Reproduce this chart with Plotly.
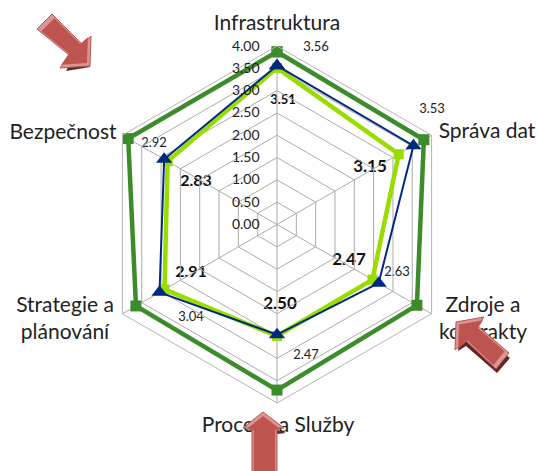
import plotly.graph_objects as go

W, H = 538, 471
categories = ["Infrastruktura", "Správa dat", "Zdroje a kontrakty", "Procesy a Služby", "Strategie a plánování", "Bezpečnost"]
target = [3.87, 3.80, 3.62, 3.71, 3.65, 3.85]
current_a = [3.56, 3.53, 2.63, 2.47, 3.04, 2.92]
current_b = [3.51, 3.15, 2.47, 2.50, 2.91, 2.83]
radial_ticks = [0, 0.5, 1, 1.5, 2, 2.5, 3, 3.5, 4]

cat_label_text = ["Infrastruktura", "Správa dat", "Zdroje a<br>kontrakty", "Procesy a Služby", "Strategie a<br>plánování", "Bezpečnost"]
cat_label_x = [277, 487, 483, 278, 65, 63]
cat_label_y = [25, 133, 320, 427, 320, 134]
a_label_x = [316, 432, 397, 306, 191, 154]
a_label_y = [48, 110, 273, 356, 318, 144]
b_label_x = [283, 370, 349, 280, 191, 196]
b_label_y = [101, 168, 261, 305, 273, 182]

CX, CY, R = 277, 224.5, 178.5
fig = go.Figure()

theta = categories + categories[:1]
fig.add_trace(go.Scatterpolar(r=target + target[:1], theta=theta, mode="lines+markers",
    line=dict(color="#3C8C2C", width=4.5), marker=dict(symbol="square", size=11, color="#3C8C2C"), cliponaxis=False))
fig.add_trace(go.Scatterpolar(r=current_b + current_b[:1], theta=theta, mode="lines+markers",
    line=dict(color="#99DD00", width=4.5), marker=dict(symbol="square", size=10, color="#99DD00"), cliponaxis=False))
fig.add_trace(go.Scatterpolar(r=current_a + current_a[:1], theta=theta, mode="lines+markers",
    line=dict(color="#002A7F", width=2), marker=dict(symbol="triangle-up", size=14, color="#002A7F"), cliponaxis=False))

fig.add_trace(go.Scatter(x=cat_label_x, y=cat_label_y, mode="text", text=cat_label_text,
    textfont=dict(family="Lato", size=21, color="#222222"), xaxis="x", yaxis="y"))
fig.add_trace(go.Scatter(x=a_label_x, y=a_label_y, mode="text", text=[f"{v:.2f}" for v in current_a],
    textfont=dict(family="Lato", size=13, color="#222222"), xaxis="x", yaxis="y"))
fig.add_trace(go.Scatter(x=b_label_x, y=b_label_y, mode="text", text=[f"<b>{v:.2f}</b>" for v in current_b],
    textfont=dict(family="Lato", size=[13, 17, 17, 17, 16, 16], color="#111111"), xaxis="x", yaxis="y"))

def poly(pts):
    return "M" + " L".join(f"{x},{y}" for x, y in pts) + " Z"

def arrow(pts, shadow):
    cx = sum(p[0] for p in pts) / len(pts)
    cy = sum(p[1] for p in pts) / len(pts)
    inner = [(cx + (x - cx) * 0.86, cy + (y - cy) * 0.86) for x, y in pts]
    return [dict(type="path", path=poly(shadow), fillcolor="#632523", line_width=0, layer="above"),
            dict(type="path", path=poly(pts), fillcolor="#D99694", line=dict(color="#B85450", width=1), layer="above"),
            dict(type="path", path=poly(inner), fillcolor="#BE5450", line_width=0, layer="above")]

shapes = []
a1 = [(52, 14), (82, 44), (91, 36), (90, 66), (60, 68), (69, 55), (37, 29)]
a1s = [(90, 50), (90, 67), (66, 71), (72, 60)]
shapes += arrow(a1, a1s)
a2 = [(484, 317), (456, 322), (455, 350), (466, 341), (496, 369), (509, 353), (478, 326)]
a2s = [(460, 335), (458, 351), (466, 346), (497, 373), (510, 358), (505, 354), (495, 365), (466, 338)]
shapes += arrow(a2, a2s)
a3 = [(263, 412), (243, 428), (252, 428), (252, 480), (277, 480), (277, 428), (284, 428)]
a3s = [(272, 428), (286, 433), (277, 434)]
shapes += arrow(a3, a3s)

fig.update_layout(
    width=W, height=H, margin=dict(l=0, r=0, t=0, b=0), showlegend=False,
    paper_bgcolor="white", plot_bgcolor="rgba(0,0,0,0)",
    xaxis=dict(range=[0, W], visible=False, domain=[0, 1], fixedrange=True),
    yaxis=dict(range=[H, 0], visible=False, domain=[0, 1], fixedrange=True),
    shapes=shapes,
    polar=dict(
        domain=dict(x=[(CX - R) / W, (CX + R) / W], y=[1 - (CY + R) / H, 1 - (CY - R) / H]),
        gridshape="linear", bgcolor="rgba(0,0,0,0)",
        angularaxis=dict(rotation=90, direction="clockwise", categoryorder="array", categoryarray=categories,
                         showticklabels=False, ticks="", showline=True, linecolor="#B5B5B5", linewidth=1,
                         gridcolor="#ABABAB", gridwidth=1),
        radialaxis=dict(range=[0, 4], tickvals=radial_ticks, tickformat=".2f", angle=90, tickangle=90,
                        side="counterclockwise", showline=False, gridcolor="#ABABAB", gridwidth=1,
                        ticks="outside", ticklen=12, tickcolor="rgba(0,0,0,0)",
                        tickfont=dict(family="Lato", size=14, color="#222222")),
    ),
)
fig.write_html("out.html", config={"displayModeBar": False}, post_script="document.body.style.margin='0';")
